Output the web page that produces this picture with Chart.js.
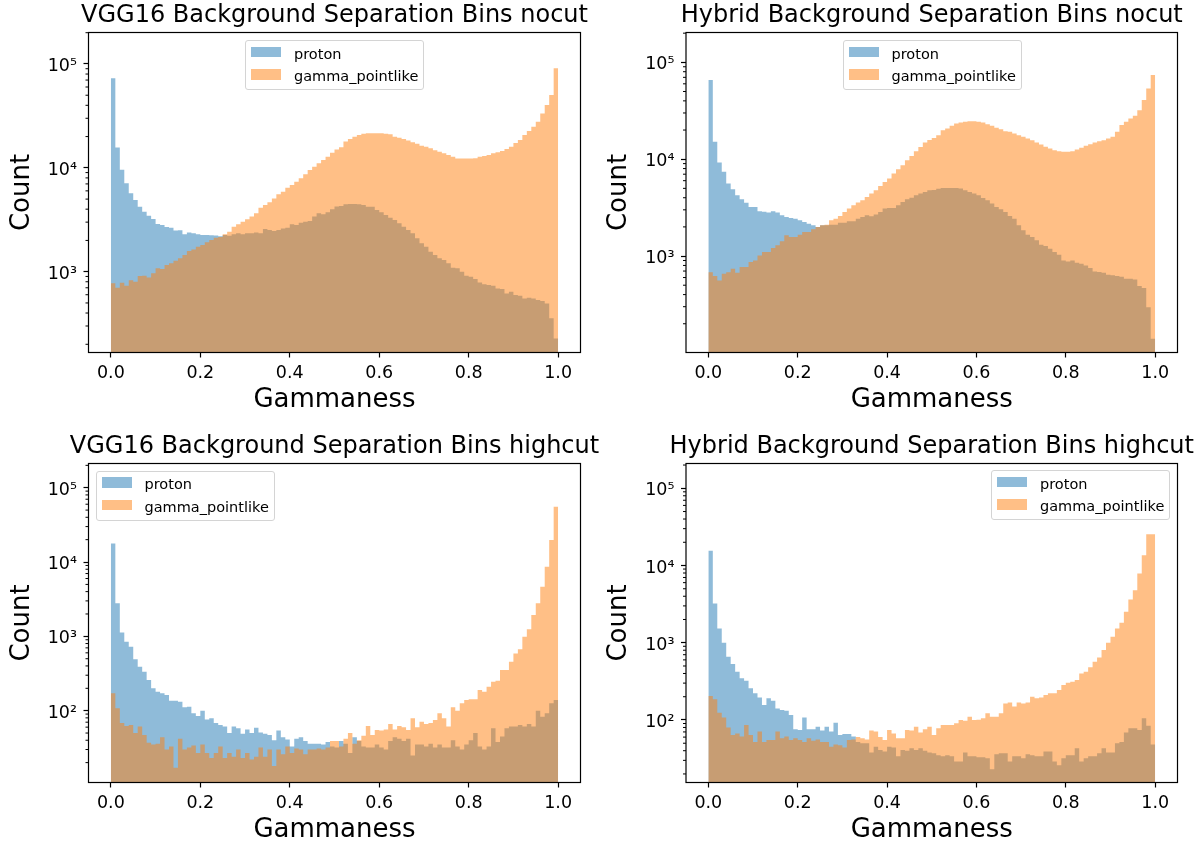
<!DOCTYPE html>
<html>
<head>
<meta charset="utf-8">
<script src="https://cdn.jsdelivr.net/npm/chart.js@4.4.0/dist/chart.umd.min.js"></script>
<style>
  html, body { margin: 0; padding: 0; background: #fff; }
  body { width: 1202px; height: 847px; position: relative; overflow: hidden; font-family: "DejaVu Sans", sans-serif; }
  canvas { position: absolute; }
  .legend { position: absolute; box-sizing: border-box; border: 1px solid #d4d4d4; border-radius: 3px;
            background: rgba(255,255,255,0.8); font-size: 14.5px; color: #000; }
  .legend .patch { position: absolute; left: 5px; width: 30px; height: 10.5px; }
  .legend .label { position: absolute; left: 48px; line-height: 16px; white-space: nowrap; }
</style>
</head>
<body>
<script>
// 100 bins on [0, 1]
const nBins = 100;
const xTicks = [0, 0.2, 0.4, 0.6, 0.8, 1.0];
const seriesNames = ['proton', 'gamma_pointlike'];

// VGG16, nocut
const vggNocutProton = [
  72800, 15700, 9600, 7100, 5680, 4900, 4230, 3780, 3460, 3220,
  2880, 2810, 2690, 2650, 2490, 2500, 2290, 2390, 2340, 2290,
  2250, 2250, 2240, 2230, 2200, 2250, 2220, 2290, 2340, 2290,
  2340, 2340, 2390, 2340, 2575, 2520, 2460, 2520, 2610, 2650,
  2855, 2810, 2960, 3025, 3075, 3390, 3650, 3570, 3730, 4000,
  4250, 4300, 4450, 4480, 4480, 4450, 4385, 4230, 4230, 3930,
  3730, 3515, 3310, 3145, 2920, 2710, 2520, 2340, 2095, 1876,
  1740, 1560, 1446, 1344, 1295, 1203, 1093, 1077, 1000, 915,
  895, 850, 789, 755, 745, 733, 690, 680, 618, 641,
  596, 587, 553, 562, 553, 533, 521, 495, 356, 228
];
const vggNocutGamma = [
  773, 701, 784, 733, 825, 800, 908, 915, 880, 964,
  1077, 1060, 1160, 1203, 1276, 1344, 1446, 1581, 1640, 1740,
  1806, 1917, 2020, 2125, 2158, 2290, 2430, 2710, 2855, 3025,
  3190, 3390, 3650, 4130, 4385, 4650, 5080, 5555, 5890, 6440,
  6835, 7360, 7930, 8660, 9530, 10260, 11050, 11900, 12800, 14000,
  15000, 15800, 17900, 18960, 19960, 20700, 21300, 21500, 21500, 21500,
  21500, 21300, 21000, 19960, 19500, 18960, 18300, 17600, 17100, 16350,
  16000, 15400, 14800, 14300, 13800, 13300, 12800, 12300, 12300, 12300,
  12300, 12400, 12800, 13000, 13300, 13800, 14100, 14500, 15200, 16000,
  17300, 18500, 20700, 22600, 24900, 27800, 33400, 40300, 50300, 90800
];

// Hybrid, nocut
const hybridNocutProton = [
  65600, 15100, 9250, 7400, 5600, 4900, 4250, 3860, 3560, 3210,
  3210, 2900, 2860, 2810, 2900, 2810, 2635, 2530, 2470, 2430,
  2340, 2250, 2160, 2075, 1995, 2075, 2075, 2110, 2110, 2210,
  2210, 2285, 2285, 2430, 2530, 2635, 2570, 2680, 2850, 3090,
  3140, 3140, 3345, 3620, 3860, 3990, 4250, 4415, 4590, 4777,
  4800, 4950, 5050, 5050, 5050, 5050, 4980, 4780, 4590, 4415,
  4250, 3980, 3770, 3480, 3214, 3040, 2850, 2594, 2430, 2075,
  1843, 1663, 1570, 1452, 1310, 1268, 1190, 1100, 1032, 902,
  881, 902, 853, 833, 800, 751, 694, 683, 673, 641,
  635, 621, 612, 583, 583, 574, 490, 467, 296, 140
];
const hybridNocutGamma = [
  682, 621, 560, 657, 682, 740, 672, 770, 770, 867,
  902, 1016, 1100, 1100, 1210, 1290, 1418, 1636, 1570, 1570,
  1663, 1772, 1772, 1887, 1995, 2075, 2110, 2340, 2430, 2594,
  2850, 3090, 3345, 3565, 3770, 4075, 4415, 4777, 5300, 5830,
  6310, 7110, 7880, 8670, 9770, 10820, 12100, 13400, 14870, 15800,
  16500, 17700, 19950, 20750, 22100, 23400, 23950, 24330, 24700, 24700,
  24330, 23950, 23000, 22100, 21100, 20420, 19480, 19190, 18440, 17700,
  17020, 16360, 15700, 14870, 14190, 13420, 12890, 12390, 12100, 11920,
  11920, 12100, 12590, 13100, 13740, 14290, 14870, 15350, 15700, 16360,
  17020, 19190, 22490, 24330, 26360, 28060, 32100, 40740, 53800, 73900
];

// VGG16, highcut
const vggHighProton = [
  17800, 2780, 1130, 848, 726, 491, 391, 335, 259, 200,
  180, 171, 162, 136, 136, 132, 111, 113, 92, 85,
  100, 76, 79, 68, 64, 61, 50, 61, 58, 49,
  56, 50, 59, 51, 49, 47, 40, 54, 44, 41,
  33, 42, 44, 39, 36, 36, 36, 35, 38, 33,
  32, 39, 36, 27, 44, 39, 33, 32, 32, 35,
  32, 30, 39, 44, 42, 39, 42, 25, 35, 35,
  33, 36, 32, 35, 32, 32, 40, 33, 30, 35,
  40, 50, 33, 30, 33, 58, 38, 45, 58, 61,
  61, 64, 61, 66, 61, 100, 83, 92, 126, 139
];
const vggHighGamma = [
  171, 108, 68, 62, 64, 50, 61, 47, 37, 35,
  36, 44, 30, 33, 17, 42, 30, 32, 34, 27,
  35, 27, 23, 27, 33, 23, 27, 24, 30, 23,
  27, 22, 24, 32, 24, 30, 18, 30, 26, 33,
  27, 31, 30, 26, 30, 30, 31, 30, 32, 39,
  39, 33, 42, 50, 36, 40, 46, 62, 47, 55,
  54, 56, 66, 56, 62, 60, 55, 79, 60, 71,
  66, 68, 75, 92, 79, 61, 111, 100, 126, 139,
  142, 142, 190, 180, 210, 245, 253, 352, 352, 456,
  590, 668, 990, 1243, 1935, 2780, 4650, 8650, 19750, 55400
];

// Hybrid, highcut
const hybridHighProton = [
  15500, 3230, 1530, 1000, 659, 530, 422, 346, 323, 257,
  221, 196, 156, 191, 178, 141, 135, 132, 116, 76,
  74, 108, 76, 76, 82, 73, 82, 71, 92, 64,
  66, 66, 61, 52, 50, 50, 38, 45, 41, 39,
  45, 44, 34, 41, 40, 43, 41, 43, 40, 38,
  37, 35, 34, 35, 34, 29, 29, 38, 34, 34,
  33, 33, 32, 23, 36, 37, 37, 29, 34, 34,
  32, 36, 35, 34, 34, 39, 39, 29, 26, 32,
  35, 35, 43, 29, 32, 34, 34, 37, 43, 38,
  38, 50, 52, 69, 78, 78, 74, 105, 84, 48
];
const hybridHighGamma = [
  204, 185, 124, 108, 80, 64, 67, 61, 86, 64,
  52, 71, 52, 55, 55, 71, 58, 61, 55, 58,
  55, 52, 58, 54, 56, 52, 52, 45, 48, 47,
  44, 55, 56, 60, 58, 56, 73, 71, 60, 55,
  74, 67, 58, 58, 74, 73, 82, 69, 76, 82,
  64, 78, 86, 86, 86, 91, 100, 98, 110, 100,
  101, 105, 122, 110, 110, 122, 164, 168, 149, 168,
  164, 168, 200, 191, 196, 210, 221, 221, 244, 284,
  304, 313, 329, 401, 422, 480, 568, 646, 804, 1000,
  1196, 1532, 1814, 2520, 3633, 4800, 7890, 13600, 25400, 25400
];

const binEdges = [];
for (let i = 0; i <= nBins; i++) binEdges.push(i / nBins);

const FONT = 'DejaVu Sans';
const protonFill = 'rgba(31, 119, 180, 0.5)';
const gammaFill = 'rgba(255, 127, 14, 0.5)';
const superscripts = { 1: '\u00b9', 2: '\u00b2', 3: '\u00b3', 4: '\u2074', 5: '\u2075' };

// area = plot box in page pixels [left, top, right, bottom]; canvas = top-left of the canvas
const panels = [
  { title: 'VGG16 Background Separation Bins nocut', proton: vggNocutProton, gamma: vggNocutGamma,
    yMin: 166.7, yMax: 200900, area: [88.5, 32.5, 580.5, 352.5], canvas: [0, 0], legend: [245, 40] },
  { title: 'Hybrid Background Separation Bins nocut', proton: hybridNocutProton, gamma: hybridNocutGamma,
    yMin: 101, yMax: 203200, area: [686, 32.5, 1177.5, 352.5], canvas: [597, 0], legend: [842.5, 40] },
  { title: 'VGG16 Background Separation Bins highcut', proton: vggHighProton, gamma: vggHighGamma,
    yMin: 10.8, yMax: 211800, area: [88.5, 463.5, 580.5, 782.5], canvas: [0, 431], legend: [95.5, 470.5] },
  { title: 'Hybrid Background Separation Bins highcut', proton: hybridHighProton, gamma: hybridHighGamma,
    yMin: 15.5, yMax: 209400, area: [686, 463.5, 1177.5, 782.5], canvas: [597, 431], legend: [991, 470] }
];

// histogram counts as a step outline: each left edge carries its bin's count
function stepData(counts) {
  return binEdges.map((x, i) => ({ x: x, y: counts[Math.min(i, counts.length - 1)] }));
}

// frame on all four sides, matplotlib-like minor log ticks, and the title centred over the axes
const frameAndMinorTicks = {
  id: 'frameAndMinorTicks',
  afterDraw(chart, args, opts) {
    const { ctx, chartArea: a } = chart;
    const y = chart.scales.y;
    ctx.save();
    ctx.strokeStyle = '#000';
    ctx.lineWidth = 1;
    ctx.beginPath();
    const d0 = Math.floor(Math.log10(y.min)), d1 = Math.ceil(Math.log10(y.max));
    for (let d = d0; d <= d1; d++) {
      for (let m = 2; m <= 9; m++) {
        const v = m * Math.pow(10, d);
        if (v < y.min || v > y.max) continue;
        const py = y.getPixelForValue(v);
        ctx.moveTo(a.left - 3, py);
        ctx.lineTo(a.left, py);
      }
    }
    ctx.stroke();
    ctx.lineWidth = 1.2;
    ctx.strokeRect(a.left, a.top, a.right - a.left, a.bottom - a.top);

    ctx.fillStyle = '#000';
    ctx.font = '24px "DejaVu Sans"';
    ctx.textAlign = 'center';
    ctx.textBaseline = 'middle';
    ctx.fillText(opts.text, (a.left + a.right) / 2, a.top - 17);
    ctx.restore();
  }
};

panels.forEach(p => {
  const W = 600;
  const [cLeft, cTop] = p.canvas;
  const [aL, aT, aR, aB] = p.area;
  const H = cTop === 0 ? 417 : 416;
  const yW = aL - cLeft;
  const xH = 64;

  const canvas = document.createElement('canvas');
  canvas.width = W;
  canvas.height = H;
  canvas.style.left = cLeft + 'px';
  canvas.style.top = cTop + 'px';
  document.body.appendChild(canvas);

  new Chart(canvas.getContext('2d'), {
    type: 'line',
    data: {
      datasets: [{
        label: seriesNames[0],
        data: stepData(p.proton),
        stepped: 'before',
        fill: 'start',
        backgroundColor: protonFill,
        borderColor: 'rgba(0,0,0,0)',
        pointRadius: 0,
        order: 2
      }, {
        label: seriesNames[1],
        data: stepData(p.gamma),
        stepped: 'before',
        fill: 'start',
        backgroundColor: gammaFill,
        borderColor: 'rgba(0,0,0,0)',
        pointRadius: 0,
        order: 1
      }]
    },
    options: {
      responsive: false,
      animation: false,
      events: [],
      layout: {
        padding: { left: 0, top: aT - cTop, right: W - (aR - cLeft), bottom: H - (aB - cTop) - xH }
      },
      plugins: {
        legend: { display: false },
        tooltip: { enabled: false },
        title: { display: false },
        frameAndMinorTicks: { text: p.title }
      },
      scales: {
        x: {
          type: 'linear',
          min: -0.05,
          max: 1.05,
          afterBuildTicks: s => { s.ticks = xTicks.map(v => ({ value: v })); },
          afterFit: s => { s.height = xH; },
          ticks: {
            autoSkip: false,
            maxRotation: 0,
            color: '#000',
            padding: 5,
            font: { family: FONT, size: 17.5 },
            callback: v => Number(v).toFixed(1)
          },
          grid: { drawOnChartArea: false, drawTicks: true, tickLength: 5, tickWidth: 1.2, tickColor: '#000' },
          border: { display: false },
          title: {
            display: true,
            text: 'Gammaness',
            color: '#000',
            font: { family: FONT, size: 26, lineHeight: 1.2 },
            padding: { top: 0, bottom: 0.9 }
          }
        },
        y: {
          type: 'logarithmic',
          min: p.yMin,
          max: p.yMax,
          afterBuildTicks: s => {
            const t = [];
            for (let d = 0; d <= 6; d++) {
              const v = Math.pow(10, d);
              if (v >= s.min && v <= s.max) t.push({ value: v });
            }
            s.ticks = t;
          },
          afterFit: s => { s.width = yW; },
          ticks: {
            autoSkip: false,
            color: '#000',
            padding: 6.5,
            labelOffset: 2.5,
            font: { family: FONT, size: 17.5 },
            callback: v => '10' + superscripts[Math.round(Math.log10(v))]
          },
          grid: { drawOnChartArea: false, drawTicks: true, tickLength: 5, tickWidth: 1.2, tickColor: '#000' },
          border: { display: false },
          title: {
            display: true,
            text: 'Count',
            color: '#000',
            font: { family: FONT, size: 26, lineHeight: 1.2 },
            padding: { top: yW - 82.1, bottom: 0 }
          }
        }
      }
    },
    plugins: [frameAndMinorTicks]
  });

  // legend box drawn as HTML, in the axes like matplotlib
  const box = document.createElement('div');
  box.className = 'legend';
  box.style.left = p.legend[0] + 'px';
  box.style.top = p.legend[1] + 'px';
  box.style.width = '179px';
  box.style.height = '50px';
  [protonFill, gammaFill].forEach((c, r) => {
    const patch = document.createElement('div');
    patch.className = 'patch';
    patch.style.top = (5.5 + r * 22.5) + 'px';
    patch.style.background = c;
    box.appendChild(patch);
    const label = document.createElement('div');
    label.className = 'label';
    label.style.top = (4.5 + r * 22.5) + 'px';
    label.textContent = seriesNames[r];
    box.appendChild(label);
  });
  document.body.appendChild(box);
});
</script>
</body>
</html>
